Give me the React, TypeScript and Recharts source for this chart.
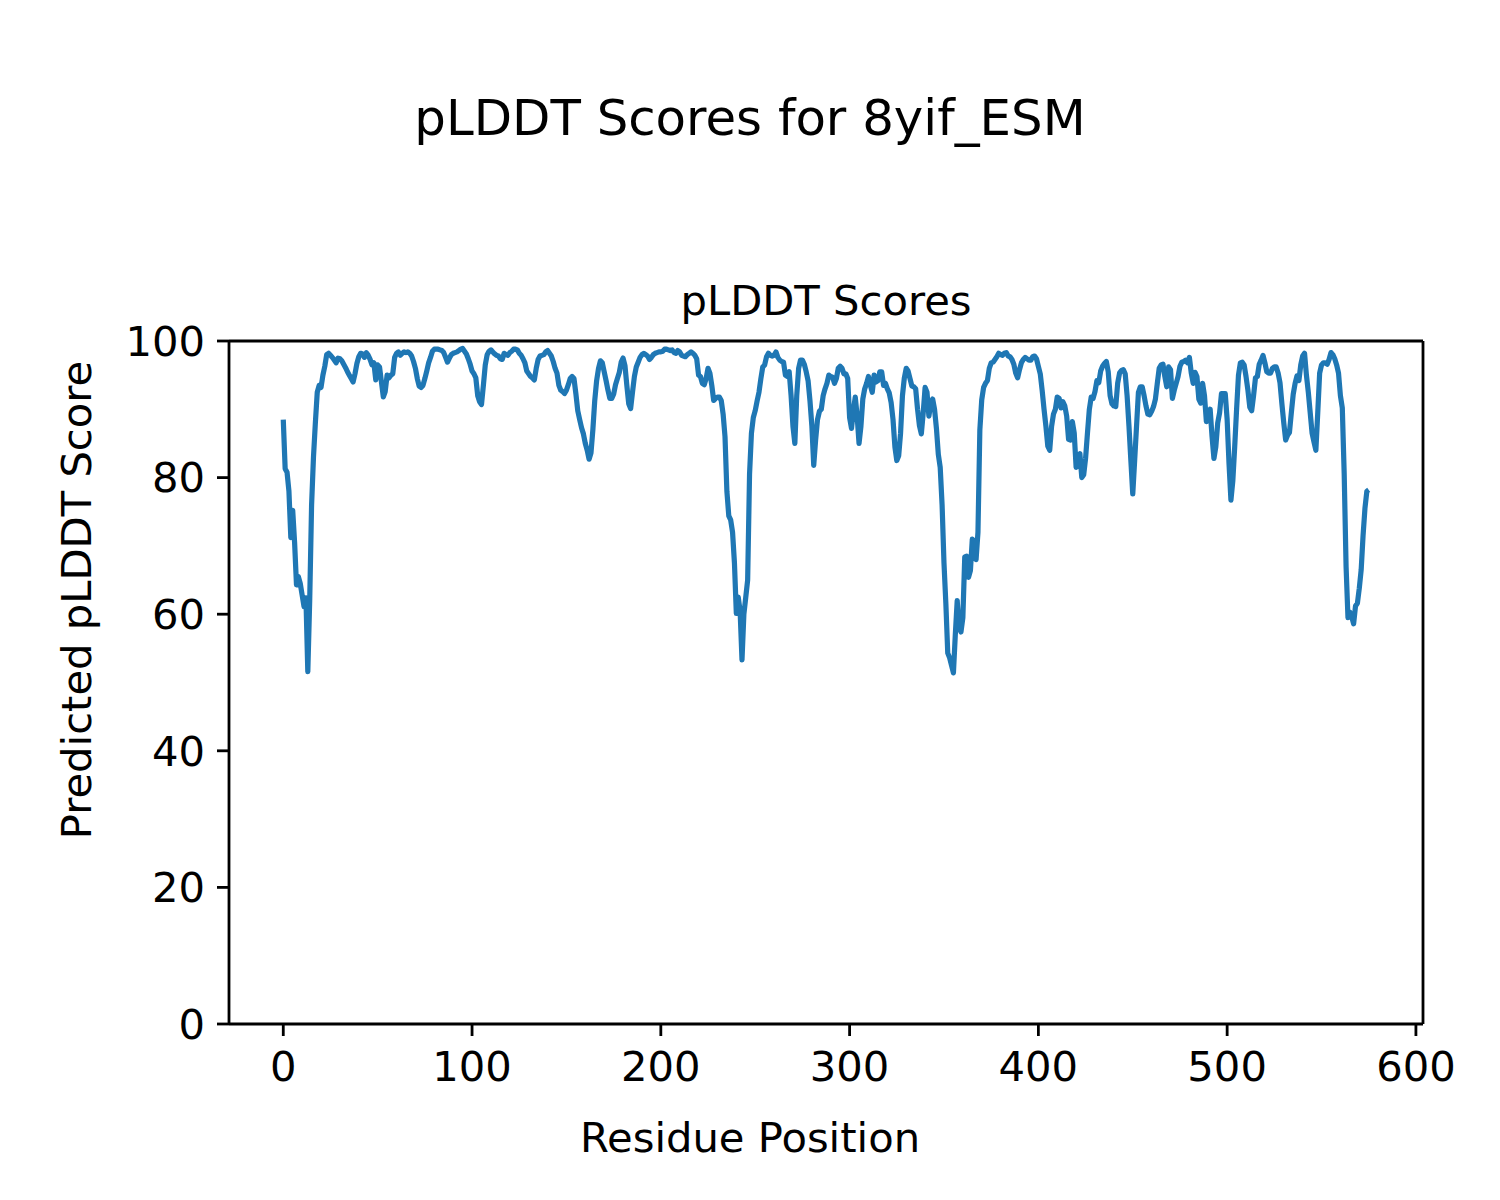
import { LineChart, Line, XAxis, YAxis } from 'recharts'

// predicted pLDDT per residue (index = residue position)
const SCORES = [
  88.5, 81.3, 80.8, 78, 71.2, 75.2, 70.5, 64.3, 65.5, 64.5,
  62.8, 61.1, 62.4, 51.6, 62, 76, 83, 88, 92.5, 93.5,
  93.2, 95, 96.3, 98, 98.2, 97.9, 97.6, 97.2, 96.8, 97.5,
  97.4, 97.1, 96.6, 96.1, 95.5, 95, 94.5, 94, 95.2, 96.7,
  97.7, 98.2, 98.1, 97.6, 98.3, 97.9, 97.3, 96.5, 96.8, 94.3,
  96.5, 96.2, 94, 91.8, 92.6, 95, 94.6, 95, 95.2, 97.6,
  98.2, 98.4, 97.9, 98.2, 98.4, 98.3, 98.4, 98.2, 97.8, 97,
  96, 94.5, 93.4, 93.2, 93.5, 94.5, 95.6, 96.8, 97.6, 98.5,
  98.8, 98.8, 98.8, 98.7, 98.6, 98.3, 97.6, 96.9, 97.5, 98,
  98.2, 98.3, 98.4, 98.6, 98.8, 98.9, 98.5, 98.1, 97.4, 96.6,
  95.6, 95.2, 94.6, 92, 91.1, 90.7, 93.5, 96.5, 98, 98.5,
  98.7, 98.4, 98.1, 97.9, 97.8, 97.4, 97.3, 98.2, 98, 97.9,
  98.3, 98.5, 98.8, 98.8, 98.7, 98.2, 97.9, 97.4, 96.8, 95.6,
  95.2, 94.8, 94.6, 94.3, 96, 97.3, 97.8, 97.9, 98, 98.4,
  98.6, 98.2, 97.8, 97, 96, 95.3, 93.5, 92.8, 92.6, 92.3,
  92.8, 93.6, 94.5, 94.8, 94.5, 92.3, 89.8, 88.5, 87.3, 86.4,
  85, 84, 82.7, 83.6, 87, 91.3, 94.2, 96, 97.1, 96.8,
  95.5, 94.2, 92.8, 91.6, 91.6, 92.2, 93.6, 94.5, 95.4, 96.9,
  97.5, 96.4, 93.5, 90.8, 90.1, 92.5, 94.8, 96.2, 96.9, 97.6,
  98, 98.2, 98, 97.8, 97.3, 97.6, 98, 98.2, 98.3, 98.4,
  98.4, 98.5, 98.8, 98.8, 98.7, 98.6, 98.7, 98.3, 98.2, 98.6,
  98.4, 97.9, 97.8, 97.7, 98, 98.2, 98.4, 98.2, 97.9, 97.4,
  95, 94.8, 93.8, 93.6, 94.5, 96, 95.3, 93.5, 91.3, 91.6,
  91.8, 91.8, 91.3, 89.3, 86, 78, 74.4, 73.8, 72, 67.5,
  60.1, 62.5, 60.5, 53.3, 60, 62.5, 65, 80.5, 86.5, 88.8,
  89.8, 91.2, 92.5, 94.5, 96.2, 96.5, 97.7, 98.2, 97.9, 97.8,
  97.9, 98.4, 97.6, 97.2, 97, 96.9, 95, 94.8, 95.5, 92,
  87.5, 85, 92, 96, 97.2, 97.2, 96.6, 95.5, 94.2, 91.3,
  87.6, 81.8, 85.5, 88.5, 89.7, 90, 92, 93, 93.8, 95,
  94.8, 94.7, 93.8, 94.5, 96, 96.3, 96, 95.2, 95.2, 94.5,
  88.8, 87.2, 89.8, 91.8, 89, 85, 87.5, 91.5, 93, 93.8,
  94.8, 93.5, 92.5, 95, 94, 94.2, 95.5, 95.5, 93.5, 93.8,
  93, 92.4, 91, 88.5, 84.5, 82.5, 83.2, 86.5, 92, 94.6,
  96, 95.6, 94.5, 93.4, 93.3, 93, 90, 87.6, 86.4, 89.5,
  93.2, 92.5, 89, 90.8, 91.5, 90, 87.2, 83.4, 81.5, 76,
  67.5, 61.5, 54.3, 53.6, 52.5, 51.4, 57, 62, 58, 57.4,
  59.5, 68.4, 68.5, 65.4, 66.4, 71, 70.5, 68, 72, 87,
  91.4, 93.2, 93.8, 94.2, 96, 96.8, 96.9, 97.3, 97.7, 98.2,
  98, 97.9, 98.2, 98.3, 97.8, 97.7, 97.3, 96.6, 95.3, 94.6,
  95.8, 96.8, 97.3, 97.6, 97.4, 97.2, 97.2, 97.7, 97.8, 97.4,
  96.3, 95.2, 92.8, 90, 87.5, 84.6, 84, 87.5, 89.3, 90,
  91.8, 91.6, 90.2, 91.1, 90.5, 89, 85.6, 85.5, 88.2, 86.5,
  81.5, 83.2, 83.5, 80, 80.4, 82.8, 86.5, 90, 91.8, 91.6,
  92.6, 94.2, 93.9, 95.6, 96.3, 96.7, 97, 95.5, 92, 90.8,
  90.5, 90.4, 93.8, 95.3, 95.7, 95.8, 95.2, 92, 87.5, 82.5,
  77.6, 82.5, 87.5, 92.5, 93.3, 93.3, 92, 90.5, 89.3, 89.2,
  89.7, 90.4, 91.5, 93.8, 96, 96.5, 96.6, 94.8, 93.3, 96.2,
  95.8, 91.6, 92.8, 93.8, 94.8, 96.3, 96.9, 97, 97.2, 96.8,
  97.6, 95.3, 93.8, 95.4, 94.8, 91.5, 90.9, 93.8, 92, 88.2,
  89.5, 90, 86, 82.8, 84.5, 88, 89.5, 92.3, 92.3, 92.3,
  88.5, 82, 76.7, 79.5, 84.5, 90, 95, 96.8, 96.9, 96.5,
  94.8, 92.8, 90.3, 89.8, 92, 94.6, 94.8, 96.6, 97.2, 97.9,
  96.8, 95.5, 95.3, 95.3, 96, 96.2, 96.2, 95.3, 93.9, 90.8,
  88, 85.5, 86.2, 86.6, 89.5, 92.2, 93.8, 94.9, 94.2, 96.5,
  97.8, 98.2, 95, 92.5, 89.5, 86.5, 85.2, 84, 89.5, 95.3,
  96.5, 96.8, 96.8, 96.6, 97.3, 98.3, 98, 97.4, 96.5, 95.3,
  92, 90.2, 80.6, 67, 59.5, 60.3, 59.6, 58.6, 61.2, 61.6,
  63.8, 66.5, 71.5, 75.5, 78, 78.2,
]

const X_TICKS = [0, 100, 200, 300, 400, 500, 600]
const Y_TICKS = [0, 20, 40, 60, 80, 100]

const SUPTITLE = 'pLDDT Scores for 8yif_ESM'
const AX_TITLE = 'pLDDT Scores'
const X_LABEL = 'Residue Position'
const Y_LABEL = 'Predicted pLDDT Score'

const data = SCORES.map((score, residue) => ({ residue, score }))

const FONT = 'DejaVu Sans, sans-serif'
const tickStyle = { fontSize: 41.7, fill: '#000', fontFamily: FONT }
const axisLine = { stroke: '#000', strokeWidth: 2.8 }
const tickLine = { stroke: '#000', strokeWidth: 2.8 }
const X_DOMAIN: [number, number] = [-28.75, 603.75]

export default function App() {
  return (
    <div style={{ position: 'absolute', left: 0, top: 0, width: 1500, height: 1200, background: '#fff', fontFamily: FONT }}>
      <LineChart width={1500} height={1200} data={data} margin={{ top: 340, right: 76, bottom: 175, left: 228 }}>
        <XAxis dataKey="residue" type="number" domain={X_DOMAIN} ticks={X_TICKS} allowDataOverflow
          height={1} tick={tickStyle} tickSize={12} tickMargin={15} axisLine={axisLine} tickLine={tickLine} />
        <XAxis xAxisId="top" orientation="top" type="number" domain={X_DOMAIN} height={1}
          tick={false} tickLine={false} axisLine={axisLine} />
        <YAxis type="number" domain={[0, 100]} ticks={Y_TICKS} width={1}
          tick={tickStyle} tickSize={12} tickMargin={12} axisLine={axisLine} tickLine={tickLine} />
        <YAxis yAxisId="right" orientation="right" type="number" domain={[0, 100]} width={1}
          tick={false} tickLine={false} axisLine={axisLine} />
        <Line dataKey="score" type="linear" stroke="#1f77b4" strokeWidth={5.2} dot={false}
          strokeLinejoin="round" isAnimationActive={false} />
      </LineChart>
      <svg width={1500} height={1200} style={{ position: 'absolute', left: 0, top: 0, pointerEvents: 'none' }}>
        <text x={750} y={135} textAnchor="middle" fontSize={49.8} fontFamily={FONT}>{SUPTITLE}</text>
        <text x={826} y={315} textAnchor="middle" fontSize={41.7} fontFamily={FONT}>{AX_TITLE}</text>
        <text x={750} y={1152} textAnchor="middle" fontSize={41.7} fontFamily={FONT}>{X_LABEL}</text>
        <text x={91} y={600} textAnchor="middle" fontSize={41.7} fontFamily={FONT}
          transform="rotate(-90 91 600)">{Y_LABEL}</text>
      </svg>
    </div>
  )
}
